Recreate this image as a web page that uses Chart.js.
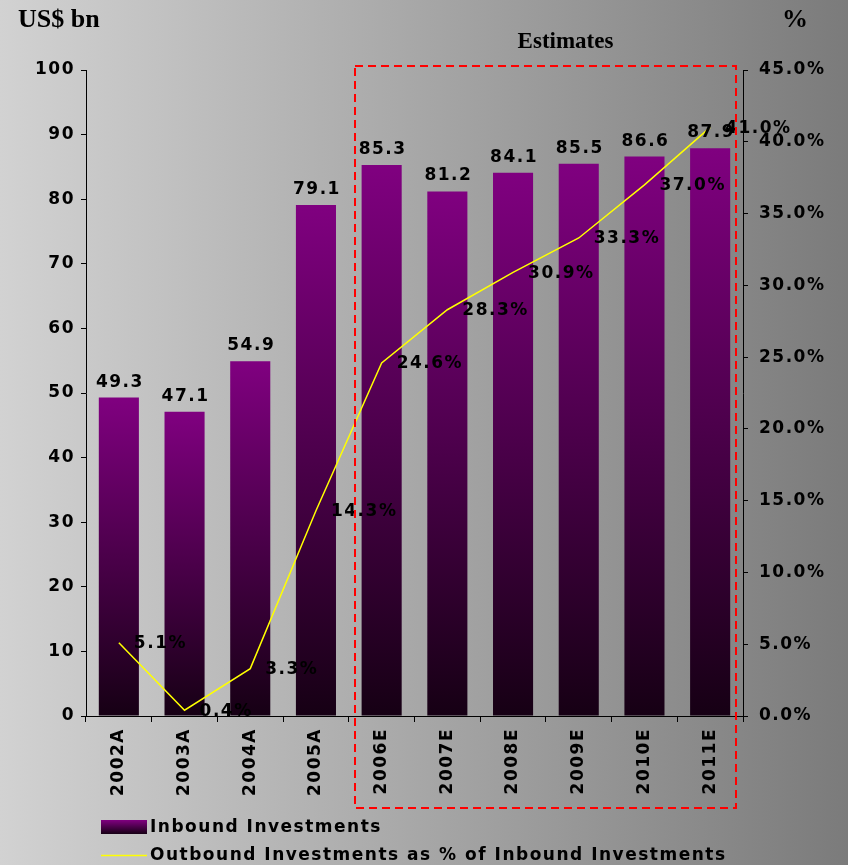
<!DOCTYPE html>
<html>
<head>
<meta charset="utf-8">
<script src="https://cdn.jsdelivr.net/npm/chart.js@4.4.1/dist/chart.umd.min.js"></script>
<style>
  html, body { margin: 0; padding: 0; }
  body { width: 848px; height: 865px; background: linear-gradient(to right, #d2d2d2, #7b7b7b); }
  canvas { display: block; }
</style>
</head>
<body>
<canvas id="invest-chart" width="848" height="865"></canvas>
<script>
// Anos (A = realizado, E = estimativa)
const years = ["2002A", "2003A", "2004A", "2005A", "2006E", "2007E", "2008E", "2009E", "2010E", "2011E"];
// Investimentos de entrada, US$ bn
const inbound = [49.3, 47.1, 54.9, 79.1, 85.3, 81.2, 84.1, 85.5, 86.6, 87.9];
// Saída como % da entrada
const outboundPct = [5.1, 0.4, 3.3, 14.3, 24.6, 28.3, 30.9, 33.3, 37.0, 41.0];
// Escalas dos eixos
const leftAxis = { max: 100, step: 10 };
const rightAxis = { max: 45, step: 5 };
// Primeira coluna dentro do quadro de estimativas
const firstEstimate = 4;

const tickFont = { family: "DejaVu Sans", size: 17, weight: "bold" };
const spacing = "1.5px";

function purpleGradient(ctx, top, bottom) {
    const g = ctx.createLinearGradient(0, top, 0, bottom);
    g.addColorStop(0, "#800080");
    g.addColorStop(1, "#160014");
    return g;
}

// Texto um pouco mais largo em todo o gráfico
const wideText = {
    id: "wideText",
    beforeDraw(chart) {
        chart.ctx.letterSpacing = spacing;
    }
};

// Rótulos, títulos, quadro tracejado e legenda
const extras = {
    id: "extras",
    afterDatasetsDraw(chart) {
        const ctx = chart.ctx;
        const x = chart.scales.x;
        ctx.save();
        ctx.letterSpacing = spacing;
        ctx.fillStyle = "#000";
        ctx.font = "bold 17px 'DejaVu Sans'";

        // valores acima das barras
        ctx.textAlign = "center";
        ctx.textBaseline = "alphabetic";
        chart.getDatasetMeta(0).data.forEach((bar, i) => {
            ctx.fillText(inbound[i].toFixed(1), bar.x + 1, bar.y - 11);
        });

        // percentuais à direita dos pontos da linha
        ctx.textAlign = "left";
        ctx.textBaseline = "middle";
        chart.getDatasetMeta(1).data.forEach((pt, i) => {
            ctx.fillText(outboundPct[i].toFixed(1) + "%", pt.x + 15, pt.y + 1);
        });

        // quadro das estimativas
        const step = x.getPixelForValue(1) - x.getPixelForValue(0);
        const left = Math.round(x.getPixelForValue(firstEstimate) - 0.4 * step);
        const right = Math.round(x.getPixelForValue(years.length - 1) + 0.4 * step);
        const top = Math.round(chart.chartArea.top) - 4;
        ctx.strokeStyle = "#ff0000";
        ctx.lineWidth = 2;
        ctx.setLineDash([8, 5]);
        ctx.strokeRect(left, top, right - left, 742);
        ctx.setLineDash([]);

        // títulos
        ctx.letterSpacing = "0px";
        ctx.font = "bold 26px 'Liberation Serif'";
        ctx.textBaseline = "alphabetic";
        ctx.textAlign = "left";
        ctx.fillText("US$ bn", 18, 27);
        ctx.textAlign = "center";
        ctx.fillText("%", 795, 27);
        ctx.font = "bold 23px 'Liberation Serif'";
        ctx.fillText("Estimates", (left + right) / 2 + 20, 48);

        // legenda
        ctx.letterSpacing = spacing;
        ctx.font = "bold 17px 'DejaVu Sans'";
        ctx.textAlign = "left";
        ctx.textBaseline = "middle";
        ctx.fillStyle = purpleGradient(ctx, 820, 834);
        ctx.fillRect(101, 820, 46, 14);
        ctx.fillStyle = "#000";
        ctx.fillText(chart.data.datasets[0].label, 150, 828);
        ctx.strokeStyle = "#ffff00";
        ctx.lineWidth = 1.5;
        ctx.beginPath();
        ctx.moveTo(101, 855.5);
        ctx.lineTo(147, 855.5);
        ctx.stroke();
        ctx.fillText(chart.data.datasets[1].label, 150, 856);
        ctx.restore();
    }
};

new Chart(document.getElementById("invest-chart"), {
    type: "bar",
    data: {
        labels: years,
        datasets: [{
            label: "Inbound Investments",
            data: inbound,
            yAxisID: "y",
            order: 2,
            barPercentage: 0.61,
            categoryPercentage: 1,
            backgroundColor(c) {
                const y = c.chart.scales.y;
                if (!y || c.type !== "data") return "#800080";
                const top = y.getPixelForValue(c.raw);
                const base = y.getPixelForValue(0);
                if (!isFinite(top) || !isFinite(base) || base <= top) return "#800080";
                return purpleGradient(c.chart.ctx, top, base);
            }
        }, {
            type: "line",
            label: "Outbound Investments as % of Inbound Investments",
            data: outboundPct,
            yAxisID: "y1",
            order: 1,
            borderColor: "#ffff00",
            borderWidth: 1.5,
            pointRadius: 0,
            tension: 0,
            fill: false
        }]
    },
    options: {
        responsive: false,
        animation: false,
        layout: { padding: { top: 70, left: 0, right: 0, bottom: 0 } },
        plugins: {
            legend: { display: false },
            title: { display: false },
            tooltip: { enabled: false }
        },
        scales: {
            x: {
                offset: true,
                grid: { offset: true, drawOnChartArea: false, color: "#000", tickLength: 6 },
                border: { color: "#000" },
                ticks: { color: "#000", font: tickFont, minRotation: 90, maxRotation: 90, padding: 6 },
                afterFit(s) { s.height = 149; }
            },
            y: {
                position: "left",
                min: 0,
                max: leftAxis.max,
                grid: { drawOnChartArea: false, color: "#000", tickLength: 5 },
                border: { color: "#000" },
                ticks: { stepSize: leftAxis.step, color: "#000", font: tickFont, padding: 6 },
                afterFit(s) { s.width = 86; }
            },
            y1: {
                position: "right",
                min: 0,
                max: rightAxis.max,
                grid: { drawOnChartArea: false, color: "#000", tickLength: 5 },
                border: { color: "#000" },
                ticks: {
                    stepSize: rightAxis.step,
                    color: "#000",
                    font: tickFont,
                    padding: 11,
                    callback: v => v.toFixed(1) + "%"
                },
                afterFit(s) { s.width = 105; }
            }
        }
    },
    plugins: [wideText, extras]
});
</script>
</body>
</html>
